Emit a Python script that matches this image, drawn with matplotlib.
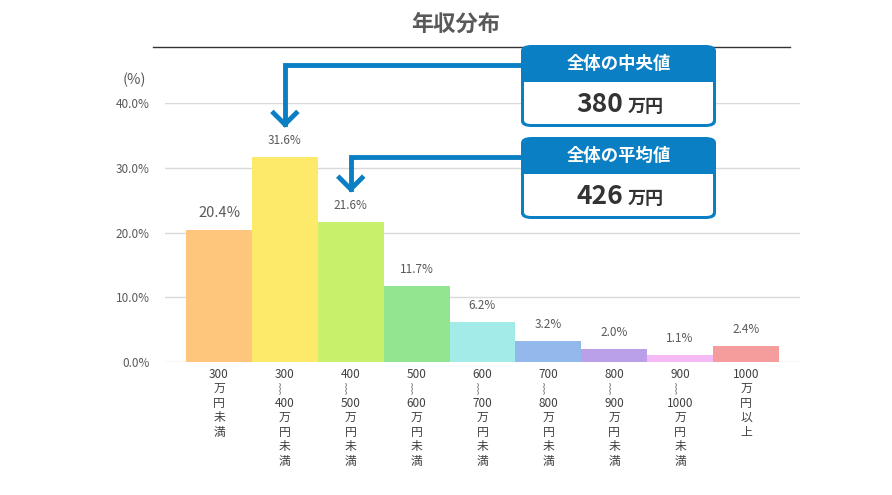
#!/usr/bin/env python3

import matplotlib
matplotlib.use('Agg')
import matplotlib.pyplot as plt
from matplotlib.patches import FancyBboxPatch, Rectangle
from matplotlib.lines import Line2D

plt.rcParams['font.family'] = ['Noto Sans CJK JP', 'DejaVu Sans']

# data
wave = '︴'
labels = ['300\n万\n円\n未\n満',
          f'300\n{wave}\n400\n万\n円\n未\n満',
          f'400\n{wave}\n500\n万\n円\n未\n満',
          f'500\n{wave}\n600\n万\n円\n未\n満',
          f'600\n{wave}\n700\n万\n円\n未\n満',
          f'700\n{wave}\n800\n万\n円\n未\n満',
          f'800\n{wave}\n900\n万\n円\n未\n満',
          f'900\n{wave}\n1000\n万\n円\n未\n満',
          '1000\n万\n円\n以\n上']
values = [20.4, 31.6, 21.6, 11.7, 6.2, 3.2, 2.0, 1.1, 2.4]
colors = ['#FEC67C', '#FDE96A', '#C8F06A', '#93E58F', '#A3EBE8',
          '#93B9EC', '#B9A0E8', '#F5B9F5', '#F59C9C']
yticks = [0, 10, 20, 30, 40]

median_value = '380'
mean_value = '426'
median_idx = 1   # 300-400
mean_idx = 2     # 400-500

W, H = 892, 495
blue = '#0B7FC3'
grey = '#595959'

fig = plt.figure(figsize=(W / 100, H / 100), dpi=100)
ax = fig.add_axes([165 / W, 1 - 362 / H, 635 / W, 259 / H])

x = range(len(values))
ax.bar(x, values, width=1.0, color=colors, zorder=2)
ax.set_xlim(-0.82, len(values) - 1 + 0.82)
ax.set_ylim(0, 40)
ax.set_yticks(yticks)
ax.set_yticklabels([f'{t:.1f}%' for t in yticks], fontsize=8.5, color=grey)
ax.grid(axis='y', color='#D9D9D9', linewidth=1, zorder=0)
ax.set_axisbelow(True)
for s in ax.spines.values():
    s.set_visible(False)
ax.tick_params(axis='y', length=0, pad=11)
ax.tick_params(axis='x', length=0, pad=4)
ax.set_xticks(list(x))
ax.set_xticklabels(labels, fontsize=8.5, color='#404040', linespacing=1.15, va='top')

for i, v in enumerate(values):
    fs = 10.5 if i == 0 else 8.5
    ax.annotate(f'{v}%', (i, v), xytext=(0, 12), textcoords='offset points',
                ha='center', va='center', fontsize=fs, color=grey)

# title and rule
fig.text(456 / W, 1 - 24 / H, '年収分布', ha='center', va='center',
         fontsize=16, fontweight='bold', color=grey)
fig.add_artist(Line2D([153 / W, 790 / W], [1 - 47 / H, 1 - 47 / H],
                      color='#333333', linewidth=1))
fig.text(134 / W, 1 - 80 / H, '(%)', ha='center', va='center',
         fontsize=10.5, color=grey)


def px(xp, yp):
    return xp / W, 1 - yp / H


def callout(top, header, value, idx):
    left, right = 521, 716
    bottom = top + 82
    head = top + 37
    # outer blue box
    x0, y0 = px(left, bottom)
    fig.add_artist(FancyBboxPatch((x0, y0), (right - left) / W, (bottom - top) / H,
                                  boxstyle='round,pad=0,rounding_size=0.012',
                                  transform=fig.transFigure, facecolor=blue,
                                  edgecolor='none', zorder=5))
    # white lower part
    x1, y1 = px(left + 3, bottom - 3)
    fig.add_artist(FancyBboxPatch((x1, y1), (right - left - 6) / W, (bottom - 3 - head) / H,
                                  boxstyle='round,pad=0,rounding_size=0.008',
                                  transform=fig.transFigure, facecolor='white',
                                  edgecolor='none', zorder=6))
    x2, y2 = px(left + 3, head + 12)
    fig.add_artist(Rectangle((x2, y2), (right - left - 6) / W, 12 / H,
                             transform=fig.transFigure, facecolor='white',
                             edgecolor='none', zorder=6))
    cx = (left + right) / 2
    fig.text(cx / W, 1 - (top + 19) / H, header, ha='center', va='center',
             fontsize=12.5, fontweight='bold', color='white', zorder=7)
    fig.text((cx + 5) / W, 1 - (bottom - 22) / H, value, ha='right', va='center',
             fontsize=19, fontweight='bold', color='#333333', zorder=7)
    fig.text((cx + 9) / W, 1 - (bottom - 21) / H, '万円', ha='left', va='center',
             fontsize=13, fontweight='bold', color='#333333', zorder=7)

    # bent arrow down to the bar
    tip = ax.transData.transform((idx, values[idx] + 5.1))
    tx, ty = tip[0], H - tip[1]
    line_y = top + 20
    pts = [(left, line_y), (tx, line_y), (tx, ty)]
    xs = [p[0] / W for p in pts]
    ys = [1 - p[1] / H for p in pts]
    fig.add_artist(Line2D(xs, ys, color=blue, linewidth=3.5,
                          solid_joinstyle='miter', zorder=4))
    d = 13
    fig.add_artist(Line2D([(tx - d) / W, tx / W, (tx + d) / W],
                          [1 - (ty - d) / H, 1 - ty / H, 1 - (ty - d) / H],
                          color=blue, linewidth=3.5, solid_joinstyle='miter',
                          solid_capstyle='butt', zorder=4))


callout(45, '全体の中央値', median_value, median_idx)
callout(137, '全体の平均値', mean_value, mean_idx)

fig.savefig('out.png', dpi=100)
